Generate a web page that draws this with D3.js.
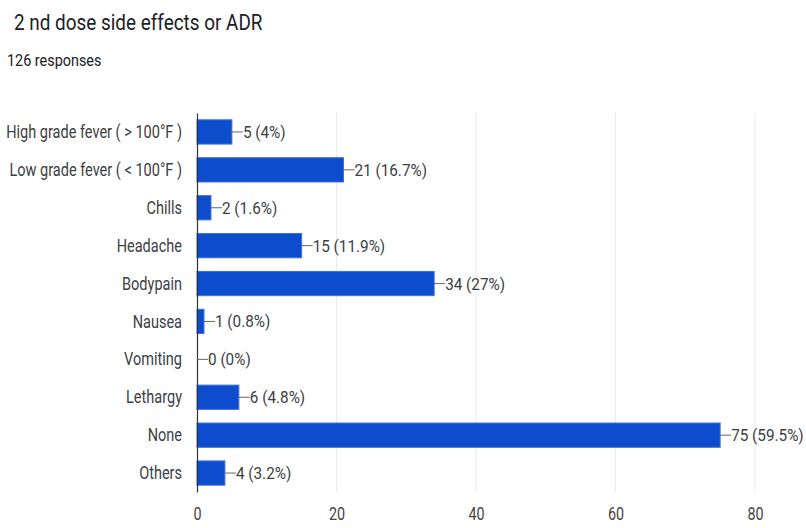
<!DOCTYPE html>
<html><head><meta charset="utf-8">
<script src="https://cdn.jsdelivr.net/npm/d3@7/dist/d3.min.js"></script>
<style>body{margin:0;background:#fff;} svg{display:block;font-family:Roboto,Arial,sans-serif;}</style>
</head><body><svg id="c" width="806" height="528"></svg>
<script>
const categories = ["High grade fever ( > 100°F )","Low grade fever ( < 100°F )","Chills","Headache","Bodypain","Nausea","Vomiting","Lethargy","None","Others"];
const counts = [5,21,2,15,34,1,0,6,75,4];
const percents = ["4%","16.7%","1.6%","11.9%","27%","0.8%","0%","4.8%","59.5%","3.2%"];
const xTicks = [0,20,40,60,80];
const title = "2 nd dose side effects or ADR";
const subtitle = "126 responses";

const svg = d3.select("#c");
const m = {left:197, right:51, top:113, bottom:36};
const W = 806, H = 528;
const x = d3.scaleLinear().domain([0,80]).range([m.left, W-m.right]);
const y = d3.scaleBand().domain(categories).range([m.top, H-m.bottom]).paddingInner(0.36).paddingOuter(0.18);

function ctext(g, tx, ty, str, size, sx, anchor, fill){
  return g.append("text").attr("transform",`translate(${tx},${ty}) scale(${sx},1)`)
    .attr("font-size",size).attr("fill",fill).attr("text-anchor",anchor).text(str);
}

ctext(svg, 14, 30, title, 22, 0.86, "start", "#202124");
ctext(svg, 7, 66, subtitle, 16, 0.9, "start", "#202124");

// grid
svg.append("g").selectAll("line").data(xTicks.slice(1)).join("line")
  .attr("x1",d=>x(d)).attr("x2",d=>x(d)).attr("y1",m.top).attr("y2",H-m.bottom)
  .attr("stroke","#ebebeb").attr("stroke-width",1);

// x tick labels
const xa = svg.append("g").attr("transform",`translate(0,${H-m.bottom})`)
  .call(d3.axisBottom(x).tickValues(xTicks).tickSize(0).tickPadding(0));
xa.select(".domain").remove();
xa.selectAll("text").attr("font-size",17.5).attr("fill","#444").attr("font-family","Roboto,Arial,sans-serif")
  .attr("y",null).attr("dy",null).attr("transform","translate(0,28) scale(0.82,1)");

// bars
svg.append("g").selectAll("rect").data(counts).join("rect")
  .attr("x",x(0)).attr("y",(d,i)=>y(categories[i]))
  .attr("width",d=>x(d)-x(0)).attr("height",y.bandwidth())
  .attr("fill","#0d4ccc").attr("stroke","#3b6fe0").attr("stroke-width",1);

// y axis
const ya = svg.append("g").attr("transform",`translate(${m.left},0)`)
  .call(d3.axisLeft(y).tickSize(0).tickPadding(0));
ya.select(".domain").attr("stroke","#333").attr("stroke-width",1.2);
ya.selectAll("text").attr("font-size",17.5).attr("fill","#3c4043").attr("font-family","Roboto,Arial,sans-serif")
  .attr("x",null).attr("dy","0.35em").attr("transform","translate(-15,0) scale(0.83,1)");

// value labels
const lab = svg.append("g").selectAll("g").data(counts).join("g")
  .attr("transform",(d,i)=>`translate(${x(d)},${y(categories[i])+y.bandwidth()/2})`);
lab.append("line").attr("x1",0).attr("x2",11).attr("stroke","#666").attr("stroke-width",1);
lab.append("text").attr("transform","translate(11,0) scale(0.9,1)").attr("dy","0.35em")
  .attr("font-size",17).attr("fill","#3c4043")
  .text((d,i)=>`${d} (${percents[i]})`);
</script></body></html>
